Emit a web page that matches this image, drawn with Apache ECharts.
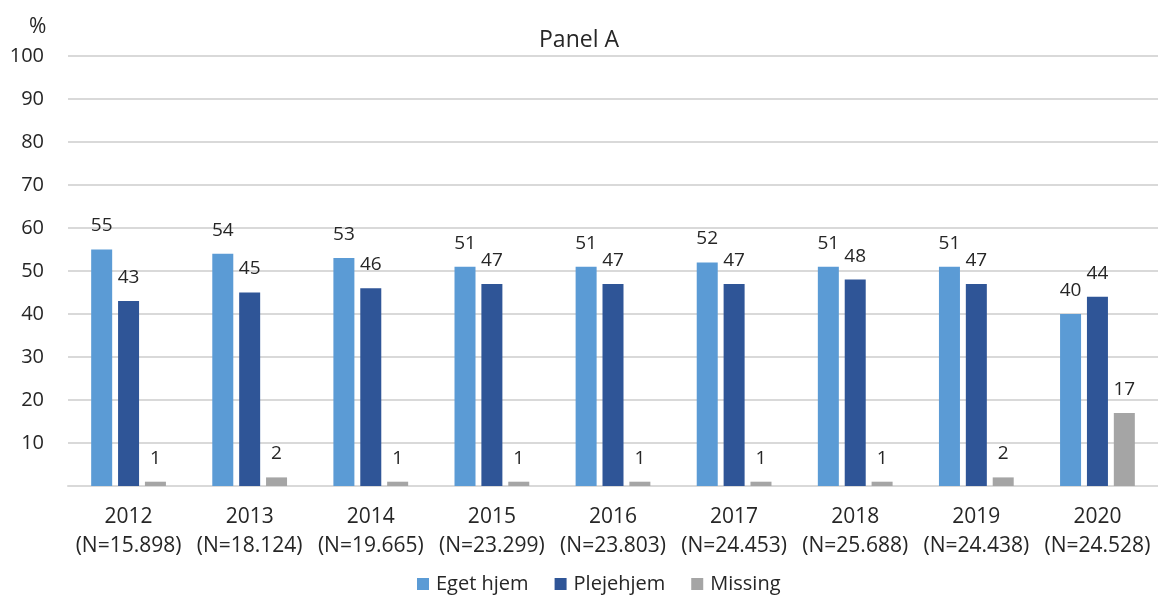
<!DOCTYPE html>
<html>
<head>
<meta charset="utf-8">
<script src="https://cdn.jsdelivr.net/npm/echarts@6/dist/echarts.min.js"></script>
<style>
  html, body { margin: 0; padding: 0; background: #fff; }
  #chart { width: 1158px; height: 595px; }
</style>
</head>
<body>
<div id="chart"></div>
<script>
// Share of deaths by place, per year (percent)
const years = ['2012', '2013', '2014', '2015', '2016', '2017', '2018', '2019', '2020'];
const counts = ['15.898', '18.124', '19.665', '23.299', '23.803', '24.453', '25.688', '24.438', '24.528'];
const egetHjem = [55, 54, 53, 51, 51, 52, 51, 51, 40];
const plejehjem = [43, 45, 46, 47, 47, 47, 48, 47, 44];
const missing = [1, 2, 1, 1, 1, 1, 1, 2, 17];

const FONT = '"Open Sans", "Noto Sans", sans-serif';
const TEXT = '#262626';

const categories = years.map((y, i) => y + '\n(N=' + counts[i] + ')');

function barSeries(name, data, color) {
  return {
    name: name,
    type: 'bar',
    data: data,
    barWidth: 21,
    barGap: '28%',
    itemStyle: { color: color },
    label: {
      show: true,
      position: 'top',
      distance: 14,
      color: TEXT,
      fontFamily: FONT,
      fontSize: 19
    }
  };
}

const chart = echarts.init(document.getElementById('chart'), null, { renderer: 'canvas' });
chart.setOption({
  animation: false,
  backgroundColor: '#ffffff',
  title: {
    text: 'Panel A',
    left: 'center',
    top: 24,
    textStyle: { color: TEXT, fontFamily: FONT, fontSize: 23, fontWeight: 'normal' }
  },
  graphic: [{
    type: 'text',
    left: 29,
    top: 17,
    style: { text: '%', fill: TEXT, font: '21px ' + FONT }
  }],
  legend: {
    left: 412,
    top: 569,
    icon: 'rect',
    itemWidth: 12,
    itemHeight: 12,
    itemGap: 26,
    textStyle: { color: TEXT, fontFamily: FONT, fontSize: 20, padding: [0, 0, 0, 2] },
    data: ['Eget hjem', 'Plejehjem', 'Missing']
  },
  grid: { left: 68, right: -3, top: 56, bottom: 109 },
  xAxis: {
    type: 'category',
    data: categories,
    axisTick: { show: false },
    axisLine: { show: true, lineStyle: { color: '#d9d9d9', width: 2 } },
    axisLabel: {
      color: TEXT,
      fontFamily: FONT,
      fontSize: 21,
      lineHeight: 29,
      margin: 17,
      interval: 0
    }
  },
  yAxis: {
    type: 'value',
    min: 0,
    max: 100,
    interval: 10,
    axisLine: { show: false },
    axisTick: { show: false },
    splitLine: { lineStyle: { color: '#d9d9d9', width: 2 } },
    axisLabel: {
      color: TEXT,
      fontFamily: FONT,
      fontSize: 20,
      margin: 24,
      formatter: v => (v === 0 ? '' : String(v))
    }
  },
  series: [
    barSeries('Eget hjem', egetHjem, '#5b9bd5'),
    barSeries('Plejehjem', plejehjem, '#2f5597'),
    barSeries('Missing', missing, '#a5a5a5')
  ]
});
</script>
</body>
</html>
